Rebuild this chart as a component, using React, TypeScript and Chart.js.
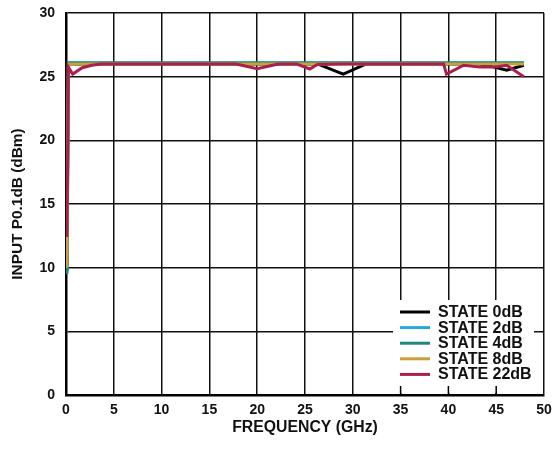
import React, { useEffect, useRef } from "react";
import { Chart, registerables } from "chart.js";

Chart.register(...registerables);

const freqGHz = [0.1, 0.25, 0.7, 1.7, 2.7, 3.7, 5, 7.5, 10, 12.5, 15, 17.8, 20, 22.2, 24.1, 25.5, 26.3, 29, 31.4, 34, 37, 39.5, 39.8, 41.6, 43.3, 44.8, 46.1, 47.9];

const state0dB = [9.8, 26.0, 26.0, 26.0, 26.0, 26.0, 26.0, 26.0, 26.0, 26.0, 26.0, 26.0, 26.0, 26.0, 26.0, 26.0, 26.0, 25.2, 26.0, 26.0, 26.0, 26.0, 26.0, 26.0, 26.0, 25.75, 25.5, 25.9];
const state2dB = [9.7, 26.05, 26.05, 26.05, 26.05, 26.05, 26.05, 26.05, 26.05, 26.05, 26.05, 26.05, 26.05, 26.05, 26.05, 26.05, 26.05, 26.05, 26.05, 26.05, 26.05, 26.05, 26.05, 26.05, 26.05, 26.05, 26.05, 26.05];
const state4dB = [9.5, 26.1, 26.1, 26.1, 26.1, 26.1, 26.1, 26.1, 26.1, 26.1, 26.1, 26.1, 26.1, 26.1, 26.1, 26.1, 26.1, 26.1, 26.1, 26.1, 26.1, 26.1, 26.1, 26.1, 26.1, 26.1, 26.1, 26.1];
const state8dB = [10.0, 26.0, 26.0, 26.0, 26.0, 26.0, 26.0, 26.0, 26.0, 26.0, 26.0, 26.0, 26.0, 26.0, 26.0, 26.0, 26.0, 26.0, 26.0, 26.0, 26.0, 26.0, 26.0, 26.0, 26.0, 26.0, 26.0, 26.0];
const state22dB = [12.4, 25.75, 25.2, 25.7, 25.9, 26.0, 26.0, 26.0, 26.0, 26.0, 26.0, 26.0, 25.63, 26.0, 26.0, 25.6, 25.95, 26.0, 26.0, 26.0, 26.0, 26.0, 25.2, 25.9, 25.75, 25.75, 25.9, 25.0];

const seriesLabels = ["STATE 0dB", "STATE 2dB", "STATE 4dB", "STATE 8dB", "STATE 22dB"];
const seriesColors = ["#000000", "#2aa6dc", "#1d8780", "#c9a13c", "#ab1f4d"];
const seriesValues = [state0dB, state2dB, state4dB, state8dB, state22dB];
const seriesOrder = [4, 3, 2, 1, 0];

const xTicks = [0, 5, 10, 15, 20, 25, 30, 35, 40, 45, 50];
const yTicks = [0, 5, 10, 15, 20, 25, 30];

const FONT = "'Liberation Sans', Arial, sans-serif";

const legendPlugin = {
  id: "boxLegend",
  afterDraw(chart: any) {
    const { ctx, scales } = chart;
    const xs = scales.x;
    const ys = scales.y;
    const left = 393;
    const top = 300;
    const right = 534;
    const bottom = ys.getPixelForValue(0) - 2;
    ctx.save();
    ctx.fillStyle = "#ffffff";
    ctx.fillRect(left, top, right - left, bottom - top);
    ctx.strokeStyle = "#000";
    ctx.lineWidth = 1.5;
    for (const t of xTicks) {
      const px = xs.getPixelForValue(t);
      if (px > left && px < right) {
        ctx.beginPath();
        ctx.moveTo(px, bottom + 2);
        ctx.lineTo(px, bottom - 7);
        ctx.stroke();
      }
    }
    ctx.font = `bold 16px ${FONT}`;
    ctx.textBaseline = "middle";
    ctx.textAlign = "left";
    const rowY0 = 312;
    const rowGap = 15.6;
    seriesLabels.forEach((lab, i) => {
      const y = rowY0 + i * rowGap;
      ctx.strokeStyle = seriesColors[i];
      ctx.lineWidth = 3;
      ctx.beginPath();
      ctx.moveTo(400, y);
      ctx.lineTo(430, y);
      ctx.stroke();
      ctx.fillStyle = "#111";
      ctx.fillText(lab, 438, y + 0.5);
    });
    ctx.restore();
  },
};

function zeroPad(scale: any) {
  scale.paddingTop = 0;
  scale.paddingBottom = 0;
  scale.paddingLeft = 0;
  scale.paddingRight = 0;
}

export default function App() {
  const ref = useRef<HTMLCanvasElement | null>(null);
  useEffect(() => {
    document.body.style.margin = "0";
    const canvas = ref.current!;
    const chart = new Chart(canvas, {
      type: "line",
      data: {
        datasets: seriesLabels.map((lab, i) => ({
          label: lab,
          data: freqGHz.map((f, j) => ({ x: f, y: seriesValues[i][j] })),
          borderColor: seriesColors[i],
          backgroundColor: seriesColors[i],
          borderWidth: 3,
          pointRadius: 0,
          tension: 0,
          order: seriesOrder[i],
          borderJoinStyle: "miter" as const,
        })),
      },
      options: {
        responsive: false,
        animation: false,
        events: [],
        layout: { padding: { left: 0, right: 11, top: 13, bottom: 0 } },
        plugins: {
          legend: { display: false },
          tooltip: { enabled: false },
        },
        scales: {
          x: {
            type: "linear",
            min: 0,
            max: 50,
            afterBuildTicks(scale: any) {
              scale.ticks = xTicks.map((v) => ({ value: v }));
            },
            afterFit(scale: any) {
              scale.height = 54;
              zeroPad(scale);
            },
            grid: { color: "#111", lineWidth: 1.5, drawTicks: false },
            border: { color: "#000", width: 2.5 },
            ticks: {
              padding: 7,
              color: "#111",
              font: { family: FONT, size: 14, weight: "bold" },
              maxRotation: 0,
            },
            title: {
              display: true,
              text: "FREQUENCY (GHz)",
              color: "#111",
              font: { family: FONT, size: 15.8, weight: "bold" },
              padding: { top: 0, bottom: 12 },
            },
          },
          y: {
            type: "linear",
            min: 0,
            max: 30,
            afterBuildTicks(scale: any) {
              scale.ticks = yTicks.map((v) => ({ value: v }));
            },
            afterFit(scale: any) {
              scale.width = 66;
              zeroPad(scale);
            },
            grid: { color: "#111", lineWidth: 1.5, drawTicks: false },
            border: { color: "#000", width: 2.5 },
            ticks: {
              padding: 11,
              color: "#111",
              font: { family: FONT, size: 14, weight: "bold" },
            },
            title: {
              display: true,
              text: "INPUT P0.1dB (dBm)",
              color: "#111",
              font: { family: FONT, size: 15.4, weight: "bold" },
              padding: { top: 9, bottom: 0 },
            },
          },
        },
      },
      plugins: [legendPlugin],
    });
    return () => chart.destroy();
  }, []);
  return (
    <div style={{ width: 555, height: 449 }}>
      <canvas ref={ref} width={555} height={449} style={{ display: "block" }} />
    </div>
  );
}
